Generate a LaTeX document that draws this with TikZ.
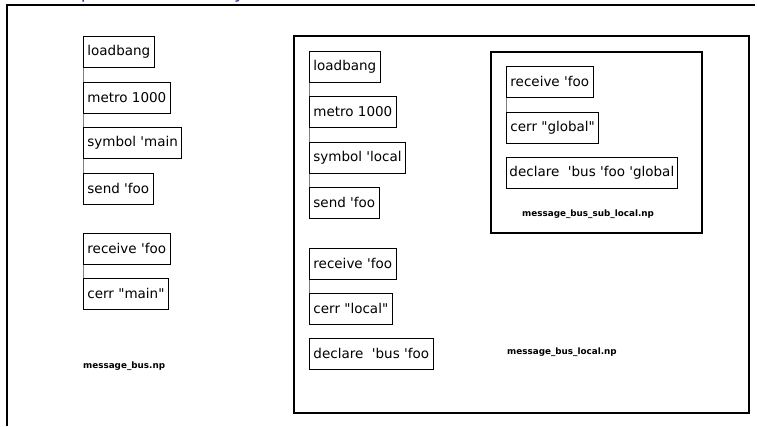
\documentclass[tikz,border=0pt]{standalone}
\usepackage{fontspec}
\setmainfont{DejaVu Sans}
\newcommand{\qt}{\textquotesingle}
\newcommand{\dq}{\textquotedbl}
\definecolor{titleblue}{RGB}{51,51,180}

\begin{document}
\begin{tikzpicture}[x=1pt, y=-1pt,
                    obj/.style = {draw, line width=0.9pt, anchor=north west, minimum height=31pt,
                                  inner xsep=4pt, font=\fontsize{13.5}{16}\selectfont},
                    file/.style = {anchor=west, inner sep=0pt, font=\fontsize{8.8}{10}\selectfont\bfseries},
                    wire/.style = {draw=gray, line width=0.8pt},
                    frame/.style = {draw, line width=1.2pt}]
      \useasboundingbox (0,0) rectangle (757,426);
      \node [anchor=base west, inner sep=0pt, text=titleblue,
             font=\fontsize{18}{20}\selectfont] (title) at (30,-1.5) {Example: bus hierarchy};
      \draw [frame] (7,426) -- (7,5) -- (755,5);

      % message_bus.np
      \node [obj] (main-load) at (83,36) {loadbang};
      \node [obj] (main-metro) at (83,82) {metro 1000};
      \node [obj] (main-sym) at (83,127) {symbol \qt main};
      \node [obj] (main-send) at (83,173) {send \qt foo};
      \node [obj] (main-recv) at (83,233) {receive \qt foo};
      \node [obj] (main-cerr) at (83,278) {cerr \dq main\dq};
      \node [file] (main-file) at (83,366) {message\_bus.np};

      \draw [wire] (main-load.south west) -- (main-metro.north west);
      \draw [wire] (main-metro.south west) -- (main-sym.north west);
      \draw [wire] (main-sym.south west) -- (main-send.north west);
      \draw [wire] (main-recv.south west) -- (main-cerr.north west);

      % message_bus_local.np
      \draw [frame] (294,36) rectangle (749,413);
      \node [obj] (local-load) at (309,51) {loadbang};
      \node [obj] (local-metro) at (309,96) {metro 1000};
      \node [obj] (local-sym) at (309,142) {symbol \qt local};
      \node [obj] (local-send) at (309,187) {send \qt foo};
      \node [obj] (local-recv) at (309,248) {receive \qt foo};
      \node [obj] (local-cerr) at (309,293) {cerr \dq local\dq};
      \node [obj] (local-decl) at (309,338) {declare\ \ \qt bus \qt foo};
      \node [file] (local-file) at (507,352) {message\_bus\_local.np};

      \draw [wire] (local-load.south west) -- (local-metro.north west);
      \draw [wire] (local-metro.south west) -- (local-sym.north west);
      \draw [wire] (local-sym.south west) -- (local-send.north west);
      \draw [wire] (local-recv.south west) -- (local-cerr.north west);

      % message_bus_sub_local.np
      \draw [frame] (491,52) rectangle (702,233);
      \node [obj] (sub-recv) at (506,66) {receive \qt foo};
      \node [obj] (sub-cerr) at (506,112) {cerr \dq global\dq};
      \node [obj, inner xsep=3pt] (sub-decl) at (506,157) {declare\ \ \qt bus \qt foo \qt global};
      \node [file] (sub-file) at (522,214) {message\_bus\_sub\_local.np};

      \draw [wire] (sub-recv.south west) -- (sub-cerr.north west);
\end{tikzpicture}
\end{document}
